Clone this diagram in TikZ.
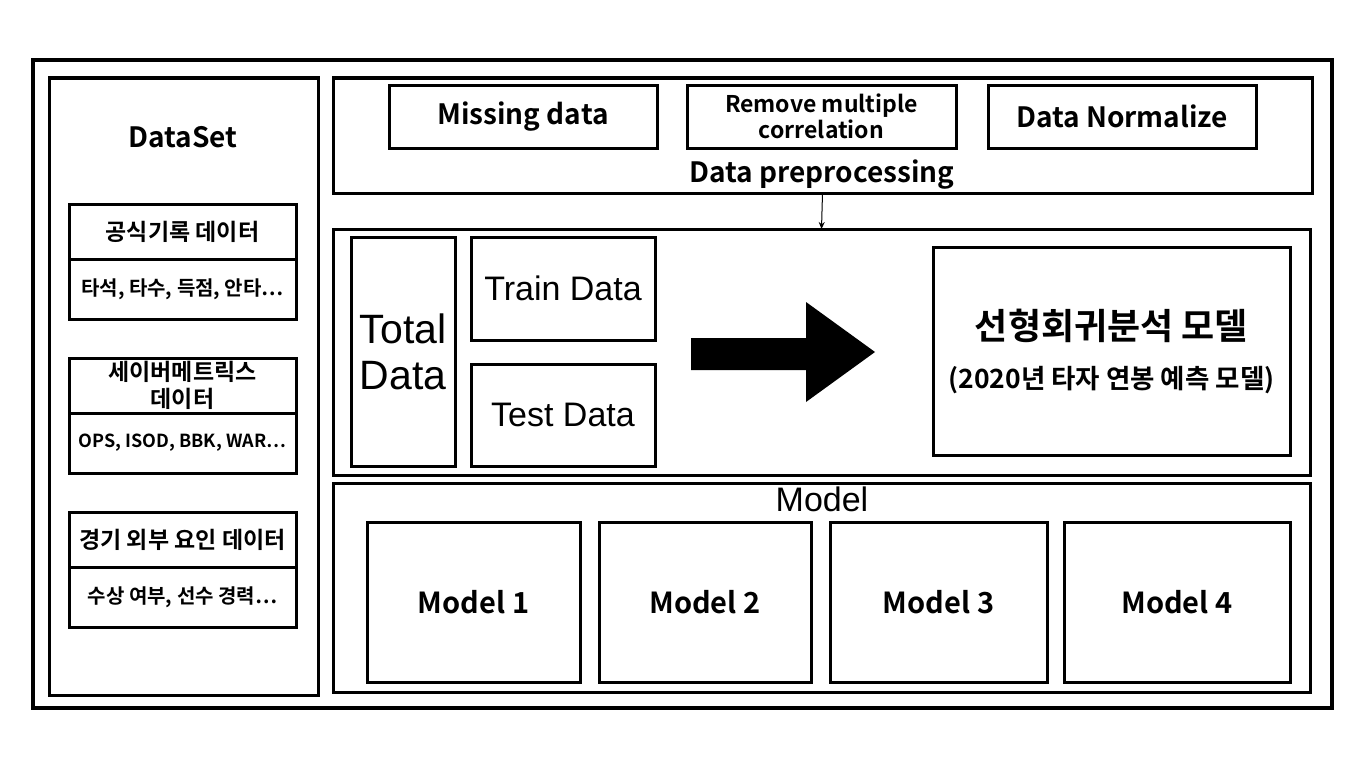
\documentclass[tikz,border=0pt]{standalone}
\usepackage{fontspec}
\setmainfont{Noto Sans CJK KR}[BoldFont={Noto Sans CJK KR Bold}]
\newfontfamily\arialfont{Liberation Sans}
\usetikzlibrary{arrows.meta,positioning}
\definecolor{ink}{HTML}{000000}
\newcommand{\fsz}[1]{\fontsize{#1}{1.2\dimexpr#1pt\relax}\selectfont}
\tikzset{box/.style={draw=ink,line width=3pt,outer sep=0pt,inner sep=0pt,align=center},
  panel/.style={box,line width=3pt},
  bold/.style={font=\bfseries\fsz{#1}},
  arial/.style={font=\arialfont\fsz{#1}}}
% one record block of the data set: title cell over content cell
\newcommand{\dsblock}[4]{\node[box,minimum width=227,minimum height=55,bold=23] (#1title) at (182.5,#2) {#3};
  \node[box,minimum width=227,minimum height=60,below=0pt of #1title,bold=18] (#1body) {#4};}

\begin{document}
\begin{tikzpicture}[x=1pt,y=-1pt]
\useasboundingbox (0,0) rectangle (1365,768);
\fill[white] (0,0) rectangle (1365,768);
\node[box,line width=4pt,minimum width=1299,minimum height=648] (frame) at (682.5,384) {};
% data set column
\node[panel,minimum width=269,minimum height=617] (dataset) at (183.5,386.5) {};
\node[bold=28] (dstitle) at (183,137) {DataSet};
\dsblock{rec}{231.5}{공식기록 데이터}{\fsz{20}타석, 타수, 득점, 안타⋯}
\dsblock{sab}{385.5}{세이버메트릭스\\[-1pt]데이터}{OPS, ISOD, BBK, WAR⋯}
\dsblock{ext}{539.5}{경기 외부 요인 데이터}{\fsz{20}수상 여부, 선수 경력⋯}
% preprocessing
\node[panel,minimum width=979,minimum height=115] (prep) at (822.5,135.5) {};
\node[box,minimum width=268,minimum height=63,bold=28] (miss) at (523,116.5) {Missing data};
\node[box,minimum width=269,minimum height=63,bold=23] (corr) at (821.5,116.5) {Remove multiple\\[-1pt]correlation};
\node[box,minimum width=268,minimum height=63,bold=28] (norm) at (1122,116.5) {Data Normalize};
\node[bold=28] (preplabel) at (822,175) {Data preprocessing};
% train / test split and regression model
\node[panel,minimum width=977,minimum height=246] (mid) at (821.5,352) {};
\draw[-{Stealth[length=7pt,width=6pt]},line width=1pt] (prep.south) -- (mid.north);
\node[box,minimum width=104,minimum height=229,arial=41] (total) at (403,351.5) {Total\\[-3pt]Data};
\node[box,minimum width=184,minimum height=103,arial=34] (train) at (563,288.5) {Train Data};
\node[box,minimum width=184,minimum height=102,arial=34] (test) at (563,415) {Test Data};
\fill[ink] (691,338) -- (806,338) -- (806,302) -- (875,352) -- (806,402) -- (806,370) -- (691,370) -- cycle;
\node[box,minimum width=357,minimum height=208] (linreg) at (1111.5,351) {};
\node[bold=36] (lrtitle) at (1111.5,326) {선형회귀분석 모델};
\node[bold=26.5] (lrsub) at (1111.5,380) {(2020년 타자 연봉 예측 모델)};
% models
\node[panel,minimum width=977,minimum height=209] (models) at (821.5,587.5) {};
\node[arial=34] (modellabel) at (822,499) {Model};
\node[box,minimum width=213,minimum height=160,bold=29] (m1) at (473.5,602) {Model 1};
\node[box,minimum width=212,minimum height=160,bold=29] (m2) at (705,602) {Model 2};
\node[box,minimum width=217,minimum height=160,bold=29] (m3) at (938.5,602) {Model 3};
\node[box,minimum width=226,minimum height=160,bold=29] (m4) at (1177,602) {Model 4};
\end{tikzpicture}
\end{document}
